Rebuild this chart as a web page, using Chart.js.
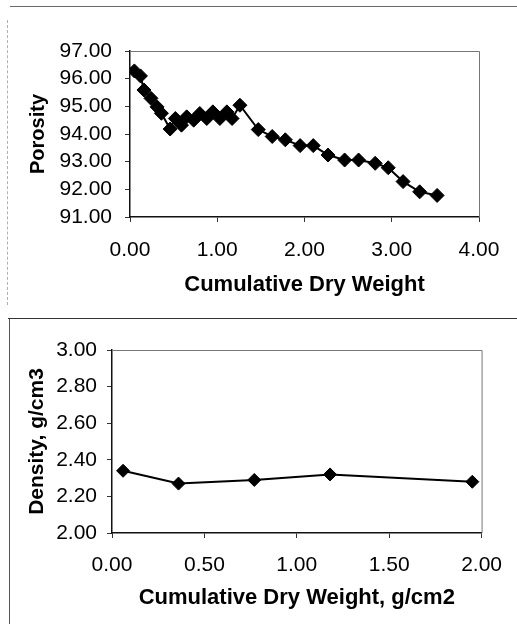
<!DOCTYPE html>
<html>
<head>
<meta charset="utf-8">
<script src="https://cdn.jsdelivr.net/npm/chart.js@4.4.0/dist/chart.umd.min.js"></script>
<style>
  body { margin: 0; background: #fff; }
  #page { position: relative; width: 517px; height: 624px; overflow: hidden; background: #fff; }
  canvas { position: absolute; left: 0; }
  .rule { position: absolute; }
</style>
</head>
<body>
<div id="page">
  <!-- frame lines around the two panels -->
  <div class="rule" style="left:10px; top:6px; width:507px; height:1px; background:#6a6a6a;"></div>
  <div class="rule" style="left:7px; top:20px; width:0; height:285px; border-left:1px dashed #b0b0b0;"></div>
  <div class="rule" style="left:8px; top:318px; width:509px; height:1px; background:#333;"></div>
  <div class="rule" style="left:9px; top:319px; width:1px; height:305px; background:#555;"></div>
  <canvas id="porosityCanvas" width="517" height="318" style="top:0"></canvas>
  <canvas id="densityCanvas" width="517" height="306" style="top:318px"></canvas>
</div>
<script>
// porosity vs cumulative dry weight
const porosityWeight = [0.05, 0.12, 0.16, 0.24, 0.31, 0.36, 0.46, 0.52, 0.59, 0.65, 0.73, 0.80, 0.88, 0.95, 1.03, 1.11, 1.17, 1.26,
                        1.47, 1.63, 1.78, 1.95, 2.10, 2.27, 2.46, 2.62, 2.81, 2.96, 3.13, 3.32, 3.52];
const porosityValues = [96.28, 96.10, 95.59, 95.29, 94.98, 94.75, 94.18, 94.56, 94.32, 94.62, 94.50, 94.74, 94.56, 94.80, 94.56, 94.80, 94.56, 95.04,
                        94.16, 93.91, 93.79, 93.58, 93.58, 93.24, 93.06, 93.06, 92.94, 92.78, 92.28, 91.91, 91.78];

// density vs cumulative dry weight
const densityWeight = [0.06, 0.36, 0.77, 1.18, 1.95];
const densityValues = [2.34, 2.27, 2.29, 2.32, 2.28];

const FONT = "'Liberation Sans', Arial, sans-serif";

// draws the light frame on the top and right of the plot area
const frameBox = {
    id: 'frameBox',
    afterDraw(chart) {
        const a = chart.chartArea;
        const ctx = chart.ctx;
        ctx.save();
        ctx.strokeStyle = '#777';
        ctx.lineWidth = 1;
        ctx.beginPath();
        ctx.moveTo(a.left, a.top + 0.5);
        ctx.lineTo(a.right + 0.5, a.top + 0.5);
        ctx.lineTo(a.right + 0.5, a.bottom);
        ctx.stroke();
        ctx.restore();
    }
};

function makeChart(canvasId, xs, ys, cfg) {
    const ctx = document.getElementById(canvasId).getContext('2d');
    return new Chart(ctx, {
        type: 'line',
        data: {
            datasets: [{
                data: xs.map((x, i) => ({x: x, y: ys[i]})),
                borderColor: '#000',
                borderWidth: 2,
                backgroundColor: '#000',
                pointStyle: 'rectRot',
                pointRadius: cfg.pointRadius,
                pointBorderWidth: 1,
                pointBorderColor: '#000',
                pointBackgroundColor: '#000',
                tension: 0
            }]
        },
        options: {
            responsive: false,
            animation: false,
            layout: { padding: cfg.padding },
            plugins: {
                legend: { display: false },
                tooltip: { enabled: false }
            },
            scales: {
                x: {
                    type: 'linear',
                    min: cfg.xMin, max: cfg.xMax,
                    afterFit(scale) { scale.height = cfg.xHeight; },
                    ticks: {
                        stepSize: cfg.xStep,
                        autoSkip: false,
                        maxRotation: 0,
                        color: '#000',
                        padding: cfg.xTickPad,
                        font: { family: FONT, size: 21 },
                        callback: v => v.toFixed(2)
                    },
                    grid: { drawOnChartArea: false, tickLength: 5, color: '#333' },
                    border: { color: '#111', width: 1.5 },
                    title: {
                        display: true,
                        text: cfg.xTitle,
                        color: '#000',
                        padding: { top: 0, bottom: cfg.xTitlePad },
                        font: { family: FONT, size: 22, weight: 'bold' }
                    }
                },
                y: {
                    min: cfg.yMin, max: cfg.yMax,
                    afterFit(scale) { scale.width = cfg.yWidth; },
                    ticks: {
                        stepSize: cfg.yStep,
                        autoSkip: false,
                        color: '#000',
                        padding: cfg.yTickPad,
                        font: { family: FONT, size: 21 },
                        callback: v => v.toFixed(2)
                    },
                    grid: { drawOnChartArea: false, tickLength: 5, color: '#333' },
                    border: { color: '#111', width: 1.5 },
                    title: {
                        display: true,
                        text: cfg.yTitle,
                        color: '#000',
                        padding: { top: cfg.yTitlePad, bottom: 0 },
                        font: { family: FONT, size: cfg.yTitleSize, weight: 'bold' }
                    }
                }
            }
        },
        plugins: [frameBox]
    });
}

document.addEventListener('DOMContentLoaded', function() {
    makeChart('porosityCanvas', porosityWeight, porosityValues, {
        padding: { left: 20, top: 51, right: 38, bottom: 12 },
        xMin: 0, xMax: 4, xStep: 1,
        yMin: 91, yMax: 97, yStep: 1,
        xHeight: 89, yWidth: 110,
        xTickPad: 16, yTickPad: 13,
        xTitle: 'Cumulative Dry Weight', xTitlePad: 8,
        yTitle: 'Porosity', yTitlePad: 6, yTitleSize: 20,
        pointRadius: 7
    });

    makeChart('densityCanvas', densityWeight, densityValues, {
        padding: { left: 20, top: 32, right: 27, bottom: 10 },
        xMin: 0, xMax: 2, xStep: 0.5,
        yMin: 2, yMax: 3, yStep: 0.2,
        xHeight: 81, yWidth: 92,
        xTickPad: 15, yTickPad: 10,
        xTitle: 'Cumulative Dry Weight, g/cm2', xTitlePad: 3,
        yTitle: 'Density, g/cm3', yTitlePad: 5, yTitleSize: 21,
        pointRadius: 6.5
    });
});
</script>
</body>
</html>
